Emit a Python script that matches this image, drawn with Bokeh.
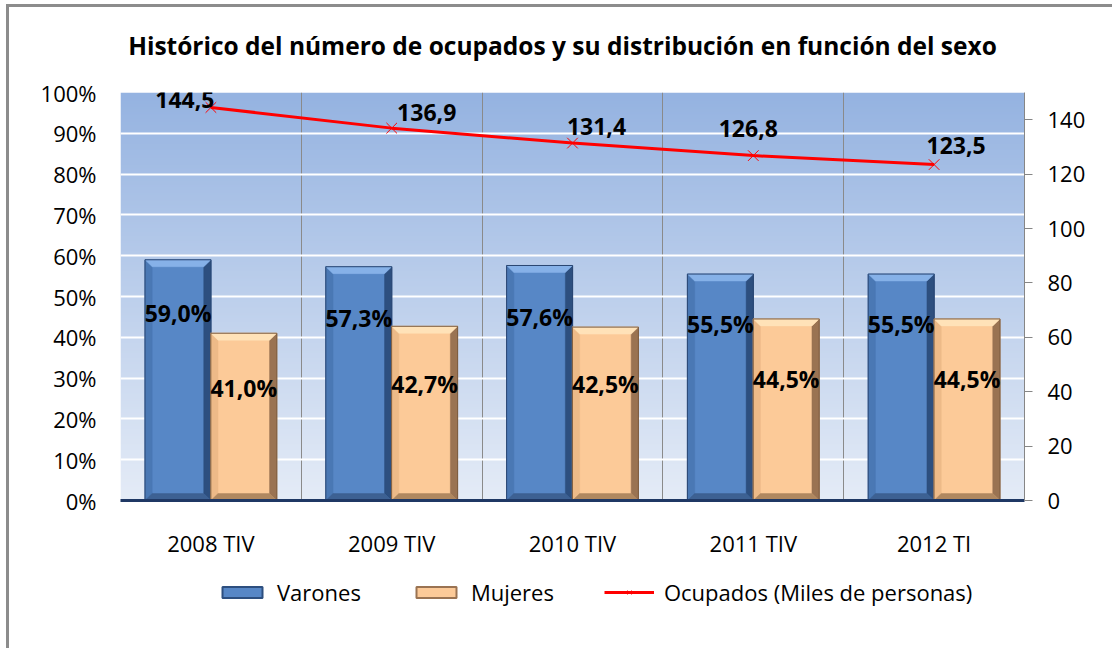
import numpy as np
from bokeh.plotting import figure
from bokeh.layouts import column
from bokeh.models import (ColumnDataSource, Range1d, LinearAxis, FixedTicker,
                          PrintfTickFormatter, Legend, LegendItem)
from bokeh.core.properties import value
from bokeh.embed import file_html
from bokeh.resources import INLINE

# ---------------- data ----------------
categories = ["2008 TIV", "2009 TIV", "2010 TIV", "2011 TIV", "2012 TI"]
varones = [59.0, 57.3, 57.6, 55.5, 55.5]
mujeres = [41.0, 42.7, 42.5, 44.5, 44.5]
ocupados = [144.5, 136.9, 131.4, 126.8, 123.5]
pct_ticks = list(range(0, 101, 10))
occ_ticks = list(range(0, 141, 20))
title_text = "Histórico del número de ocupados y su distribución en función del sexo"
series_names = ["Varones", "Mujeres", "Ocupados (Miles de personas)"]

# ---------------- style ----------------
FONT = "Open Sans"
W = 1103
FW = 904          # plot frame width (strips are frame-aligned by the column layout)
line_label_dx = [-26, 35, 24, -5, 22]
line_label_dy = [-8, -16, -17, -27, -19]
BAR_W = 0.365
OFF = 0.182
BX = 0.04     # bevel width in x data units
BY = 1.7      # bevel height in % units

blue = dict(main="#5787C6", top="#86B1E8", left="#4A78B4", right="#2D4F7F", bottom="#3D6193", edge="#2A4672")
peach = dict(main="#FCCA98", top="#FFE2B8", left="#EDBA88", right="#9A7352", bottom="#B08860", edge="#7A5A3E")


def blank_fig(h):
    f = figure(width=W, height=h, x_range=Range1d(0, FW), y_range=Range1d(0, h),
               output_backend="svg", toolbar_location=None,
               min_border=0, min_border_left=111, min_border_right=88, min_border_top=0, min_border_bottom=0,
               background_fill_color="white", border_fill_color="white")
    f.axis.visible = False
    f.grid.visible = False
    f.outline_line_color = None
    return f


# ---------------- title strip ----------------
TH = 69
tfig = blank_fig(TH)
tfig.text(x=[442], y=[TH - 38], text=[title_text], text_align="center", text_baseline="middle",
          text_font=value(FONT), text_font_style="bold", text_font_size="24.5px", text_color="black")

# ---------------- main chart ----------------
x = np.arange(len(categories), dtype=float)

p = figure(width=W, height=494, x_range=Range1d(-0.5, 4.5), y_range=Range1d(0, 100),
           output_backend="svg", toolbar_location=None,
           min_border_left=111, min_border_right=88, min_border_top=16, min_border_bottom=70,
           background_fill_color="white", border_fill_color="white")
p.outline_line_color = None
p.extra_y_ranges = {"occ": Range1d(0, 150)}

# background gradient
N = 256
t = np.linspace(0, 1, N)
c_bot = np.array([229, 236, 247])
c_top = np.array([149, 179, 225])
cols = (c_bot + (c_top - c_bot) * t[:, None]).astype(np.uint8)
img = np.zeros((N, 2), dtype=np.uint32)
view = img.view(dtype=np.uint8).reshape((N, 2, 4))
for k in range(2):
    view[:, k, 0] = cols[:, 0]
    view[:, k, 1] = cols[:, 1]
    view[:, k, 2] = cols[:, 2]
    view[:, k, 3] = 255
p.image_rgba(image=[img], x=-0.5, y=0, dw=5, dh=100, level="image")

# grids
p.ygrid.ticker = FixedTicker(ticks=pct_ticks)
p.ygrid.grid_line_color = "white"
p.ygrid.grid_line_width = 2
p.xgrid.ticker = FixedTicker(ticks=[i - 0.5 for i in range(len(categories))])
p.xgrid.grid_line_color = "#8a8a8a"
p.xgrid.grid_line_width = 1

# axes
p.xaxis.ticker = FixedTicker(ticks=list(x))
p.xaxis.major_label_overrides = {float(i): c for i, c in enumerate(categories)}
p.xaxis.axis_line_color = "#1F3864"
p.xaxis.axis_line_width = 3
p.xaxis.major_tick_line_color = None
p.xaxis.minor_tick_line_color = None
p.xaxis.major_label_standoff = 21
p.xaxis.major_label_text_font = FONT
p.xaxis.major_label_text_font_size = "22px"
p.xaxis.major_label_text_color = "black"

p.yaxis.ticker = FixedTicker(ticks=pct_ticks)
p.yaxis.formatter = PrintfTickFormatter(format="%d%%")
p.yaxis.axis_line_color = None
p.yaxis.major_tick_line_color = None
p.yaxis.minor_tick_line_color = None
p.yaxis.major_label_standoff = 18
p.yaxis.major_label_text_font = FONT
p.yaxis.major_label_text_font_size = "22px"
p.yaxis.major_label_text_color = "black"

ax_r = LinearAxis(y_range_name="occ", ticker=FixedTicker(ticks=occ_ticks))
ax_r.axis_line_color = "#868686"
ax_r.major_tick_line_color = "#868686"
ax_r.major_tick_out = 8
ax_r.major_tick_in = 0
ax_r.minor_tick_line_color = None
ax_r.major_label_standoff = 15
ax_r.major_label_text_font = FONT
ax_r.major_label_text_font_size = "22px"
ax_r.major_label_text_color = "black"
p.add_layout(ax_r, "right")


def bevel_bars(centers, vals, pal):
    L = centers - BAR_W / 2
    R = centers + BAR_W / 2
    T = np.asarray(vals, dtype=float)
    faces = {"main": ([], []), "top": ([], []), "left": ([], []), "right": ([], []), "bottom": ([], [])}
    for l, r, tp in zip(L, R, T):
        faces["main"][0].append([l, r, r, l]); faces["main"][1].append([0, 0, tp, tp])
        faces["top"][0].append([l, r, r - BX, l + BX]); faces["top"][1].append([tp, tp, tp - BY, tp - BY])
        faces["left"][0].append([l, l + BX, l + BX, l]); faces["left"][1].append([tp, tp - BY, BY, 0])
        faces["right"][0].append([r, r - BX, r - BX, r]); faces["right"][1].append([tp, tp - BY, BY, 0])
        faces["bottom"][0].append([l, r, r - BX, l + BX]); faces["bottom"][1].append([0, 0, BY, BY])
    for key in ["main", "left", "right", "bottom", "top"]:
        xs, ys = faces[key]
        p.patches(xs=xs, ys=ys, fill_color=pal[key], line_color=pal[key], line_width=0.5)
    p.quad(left=L, right=R, bottom=0, top=T, fill_color=None, line_color=pal["edge"], line_width=1)


bevel_bars(x - OFF, varones, blue)
bevel_bars(x + OFF, mujeres, peach)


def fmt(v, suffix=""):
    return f"{v:.1f}".replace(".", ",") + suffix


lab_src = ColumnDataSource(dict(
    x=list(x - OFF) + list(x + OFF),
    y=[v * 0.78 for v in varones] + [v * 0.67 for v in mujeres],
    t=[fmt(v, "%") for v in varones] + [fmt(v, "%") for v in mujeres]))
p.text(x="x", y="y", text="t", source=lab_src, text_align="center", text_baseline="middle",
       text_font=value(FONT), text_font_style="bold", text_font_size="23px", text_color="black")

# line series
p.line(x, ocupados, y_range_name="occ", line_color="#FF0000", line_width=3)
p.scatter(x, ocupados, y_range_name="occ", marker="x", size=15, line_color="#FF0000", line_width=1)
occ_src = ColumnDataSource(dict(x=x, y=ocupados, t=[fmt(v) for v in ocupados],
                                dx=line_label_dx, dy=line_label_dy))
p.text(x="x", y="y", text="t", x_offset="dx", y_offset="dy", source=occ_src, y_range_name="occ",
       text_align="center", text_baseline="middle", text_font=value(FONT), text_font_style="bold",
       text_font_size="23px", text_color="black")

# ---------------- legend strip ----------------
LH = 78
lfig = blank_fig(LH)
# legend proxies: one point each, placed outside the visible range so only the legend shows them
OUT = [-1000]
lv = lfig.quad(left=OUT, right=OUT, top=OUT, bottom=OUT, fill_color=blue["main"], line_color=blue["right"], line_width=2)
lm = lfig.quad(left=OUT, right=OUT, top=OUT, bottom=OUT, fill_color=peach["main"], line_color=peach["right"], line_width=2)
ll = lfig.line(x=OUT, y=OUT, line_color="#FF0000", line_width=3)
lx = lfig.scatter(x=OUT, y=OUT, marker="x", size=15, line_color="#FF0000", line_width=1)

legend = Legend(items=[LegendItem(label=series_names[0], renderers=[lv]),
                       LegendItem(label=series_names[1], renderers=[lm]),
                       LegendItem(label=series_names[2], renderers=[ll, lx])],
                orientation="horizontal", location=(97, 41), glyph_width=50, glyph_height=14,
                label_standoff=10, spacing=50, padding=0, margin=0, border_line_color=None,
                background_fill_alpha=0, label_text_font=FONT, label_text_font_size="22px",
                label_text_color="black")
lfig.add_layout(legend, "center")

layout = column(tfig, p, lfig, spacing=0)
layout.styles = {"border-top": "3px solid #8c8c8c", "border-left": "3px solid #8c8c8c",
                 "margin-left": "6px", "margin-top": "4px"}

open("out.html", "w").write(file_html(layout, INLINE))
